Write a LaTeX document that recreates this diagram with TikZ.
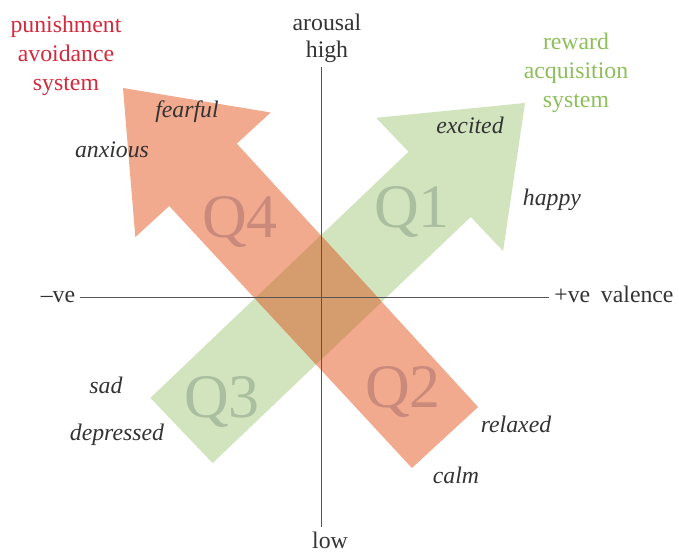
\documentclass[tikz,border=0pt]{standalone}
\usepackage{fontspec}
\setmainfont{Liberation Serif}
\usepackage{xcolor}
\usepackage{tikz}
\usetikzlibrary{positioning}

\definecolor{punred}{HTML}{F2AA8E}
\definecolor{rewgreen}{HTML}{D2E4BE}
\definecolor{overlapbrown}{HTML}{D59C6E}
\definecolor{punlabel}{HTML}{D22A3C}
\definecolor{rewlabel}{HTML}{8CBE5A}
\definecolor{qred}{HTML}{C98A7C}
\definecolor{qgreen}{HTML}{AABFA0}
\definecolor{axisgray}{HTML}{555555}
\definecolor{moodgray}{HTML}{333333}

% outlines of the two big arrows
\newcommand{\punarrow}{(478.1,407.0) -- (236.8,143.6) -- (270.7,112.5) -- (123,88) -- (135.3,237.1) -- (169.2,206.0) -- (411.9,468.0) -- cycle}
\newcommand{\rewarrow}{(150.4,397.9) -- (408.5,151.8) -- (376.1,117.8) -- (525,103) -- (503.1,251.0) -- (470.7,217.0) -- (212.6,463.1) -- cycle}

\begin{document}
\begin{tikzpicture}[x=0.025cm, y=-0.025cm,
		txt/.style={font=\fontsize{16.9}{20.6}\selectfont, text=moodgray, anchor=base},
		mood/.style={font=\fontsize{16.9}{20.6}\selectfont\itshape, text=moodgray, anchor=base},
		sysname/.style={font=\fontsize{16.9}{20.6}\selectfont, align=center, anchor=base},
		quad/.style={font=\fontsize{44}{44}\selectfont, anchor=base},
		axis/.style={draw=axisgray, line width=0.8pt}]
		\useasboundingbox (0,0) rectangle (679,552);
		
		% arrows and their overlap
		\fill[rewgreen] \rewarrow;
		\fill[punred] \punarrow;
		\begin{scope}
			\clip \rewarrow;
			\fill[overlapbrown] \punarrow;
		\end{scope}
		
		% quadrant names
		\node[quad, text=qgreen] (Q1) at (412,227) {Q1};
		\node[quad, text=qred] (Q2) at (403,407) {Q2};
		\node[quad, text=qgreen] (Q3) at (222,417) {Q3};
		\node[quad, text=qred] (Q4) at (240,237) {Q4};
		
		% axes
		\coordinate (origin) at (321.7,297.7);
		\node[txt] (arousal) at (327,30) {arousal};
		\node[txt] (high) at (327,57) {high};
		\node[txt] (low) at (330,548) {low};
		\node[txt] (neg) at (58,302) {--ve};
		\node[txt] (pos) at (614,302) {+ve\hspace{0.45em}valence};
		\draw[axis] (origin |- high.south) -- (origin |- low.north);
		\draw[axis] (neg.east |- origin) -- (pos.west |- origin);
		
		% systems
		\node[sysname, text=punlabel] (pun) at (66,90) {punishment\\avoidance\\system};
		\node[sysname, text=rewlabel] (rew) at (576,107) {reward\\acquisition\\system};
		
		% moods
		\node[mood] (fearful) at (187,117) {fearful};
		\node[mood] (anxious) at (112,157) {anxious};
		\node[mood] (excited) at (470,133) {excited};
		\node[mood] (happy) at (552,205) {happy};
		\node[mood] (sad) at (106,393) {sad};
		\node[mood] (depressed) at (117,440) {depressed};
		\node[mood] (relaxed) at (516,432) {relaxed};
		\node[mood] (calm) at (456,483) {calm};
	\end{tikzpicture}
\end{document}
